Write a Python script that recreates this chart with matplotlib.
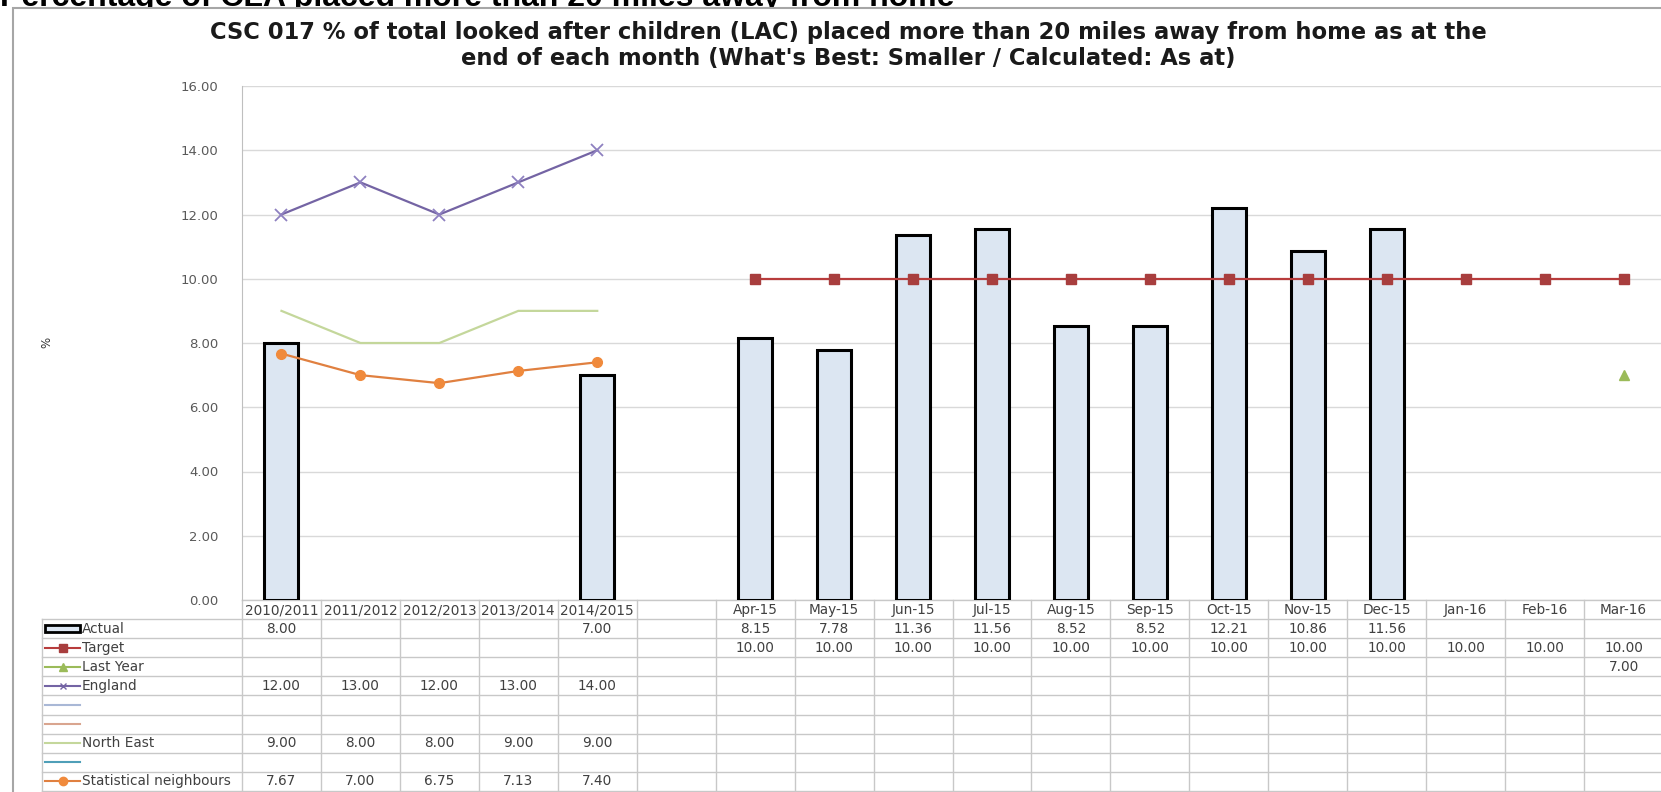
import matplotlib.pyplot as plt
import numpy as np
from matplotlib.patches import Rectangle

W, H = 1661, 792

categories = ['2010/2011', '2011/2012', '2012/2013', '2013/2014', '2014/2015', '',
              'Apr-15', 'May-15', 'Jun-15', 'Jul-15', 'Aug-15', 'Sep-15',
              'Oct-15', 'Nov-15', 'Dec-15', 'Jan-16', 'Feb-16', 'Mar-16']
nan = np.nan
actual = [8.00, nan, nan, nan, 7.00, nan,
          8.15, 7.78, 11.36, 11.56, 8.52, 8.52, 12.21, 10.86, 11.56, nan, nan, nan]
target = [nan] * 6 + [10.00] * 12
last_year = [nan] * 17 + [7.00]
england = [12.00, 13.00, 12.00, 13.00, 14.00] + [nan] * 13
north_east = [9.00, 8.00, 8.00, 9.00, 9.00] + [nan] * 13
stat_neighbours = [7.67, 7.00, 6.75, 7.13, 7.40] + [nan] * 13

row_names = ['Actual', 'Target', 'Last Year', 'England', '', '', 'North East', '',
             'Statistical neighbours']
row_values = [actual, target, last_year, england, None, None, north_east, None,
              stat_neighbours]

txt_c = '#404040'
tfs = 9.8
fig = plt.figure(figsize=(W / 100, H / 100), dpi=100)

# overlay axes in pixel coordinates for frame, titles and the data table
ov = fig.add_axes([0, 0, 1, 1], zorder=0)
ov.set_xlim(0, W)
ov.set_ylim(H, 0)
ov.axis('off')

ov.text(0, 6, 'Percentage of CLA placed more than 20 miles away from home',
        fontsize=23, fontweight='bold', family='Liberation Sans', va='baseline',
        ha='left', zorder=0)
ov.add_patch(Rectangle((13, 8), W, H, facecolor='white', edgecolor='#A6A6A6',
                       lw=1.5, zorder=1))
ov.text(848, 32, "CSC 017 % of total looked after children (LAC) placed more than 20 miles away from home as at the",
        fontsize=16.3, fontweight='bold', ha='center', va='center', color='#1A1A1A', zorder=2)
ov.text(848, 58, "end of each month (What's Best: Smaller / Calculated: As at)",
        fontsize=16.3, fontweight='bold', ha='center', va='center', color='#1A1A1A', zorder=2)
ov.text(47, 342, '%', fontsize=8.5, color='#303030', rotation=90, ha='center', va='center', zorder=2)

# plot axes
x0, x1, ytop, ybot = 242, 1663, 86, 600
ax = fig.add_axes([x0 / W, 1 - ybot / H, (x1 - x0) / W, (ybot - ytop) / H], zorder=2)
ax.set_facecolor('none')
n = len(categories)
x = np.arange(n)
ax.set_xlim(-0.5, n - 0.5)
ax.set_ylim(0, 16)
ax.set_yticks(np.arange(0, 17, 2))
ax.set_yticklabels(['%.2f' % v for v in np.arange(0, 17, 2)], fontsize=9.5, color='#595959')
ax.tick_params(axis='y', length=0, pad=17)
ax.set_xticks([])
ax.grid(axis='y', color='#D9D9D9', lw=1)
ax.set_axisbelow(True)
for s in ['top', 'right', 'bottom']:
    ax.spines[s].set_visible(False)
ax.spines['left'].set_color('#BFBFBF')

ax.bar(x, actual, width=0.43, color='#DCE6F2', edgecolor='black', lw=2.2, zorder=2)
ax.plot(x, north_east, color='#C4D79B', lw=1.6, zorder=3)
ax.plot(x, stat_neighbours, color='#E08040', lw=1.6, marker='o', ms=7,
        mfc='#F08A3C', mec='#F08A3C', zorder=4)
ax.plot(x, england, color='#7464A4', lw=1.6, marker='x', ms=8, mew=1.3,
        mec='#8E80C0', zorder=4)
ax.plot(x, target, color='#B83C3C', lw=1.6, marker='s', ms=6.5, mfc='#A83E3E',
        mec='#A83E3E', zorder=4)
ax.plot(x, last_year, color='#9BBB59', lw=0, marker='^', ms=7, zorder=4)

# data table
cw = (x1 - x0) / n
row_top = 619
rh = 19.1
tl = 42
grid_c = '#C8C8C8'
ov.plot([x0, W], [ybot, ybot], color=grid_c, lw=1, zorder=2)
for k in range(len(row_names) + 1):
    yy = row_top + k * rh
    ov.plot([tl, W], [yy, yy], color=grid_c, lw=1, zorder=2)
for k in range(n + 1):
    xx = x0 + k * cw
    ov.plot([xx, xx], [ybot, H], color=grid_c, lw=1, zorder=2)
ov.plot([tl, tl], [row_top, H], color=grid_c, lw=1, zorder=2)

for i, c in enumerate(categories):
    ov.text(x0 + (i + 0.5) * cw, 610, c, fontsize=tfs, color=txt_c, ha='center',
            va='center', zorder=3)

key_styles = [
    None,
    dict(color='#B83C3C', marker='s', mfc='#A83E3E', mec='#A83E3E', ms=6),
    dict(color='#9BBB59', marker='^', ms=6),
    dict(color='#7464A4', marker='x', ms=5),
    dict(color='#A9B8D6'),
    dict(color='#D9A58F'),
    dict(color='#C4D79B'),
    dict(color='#4F9FB8'),
    dict(color='#E08040', marker='o', ms=6, mfc='#F08A3C', mec='#F08A3C'),
]
for r, name in enumerate(row_names):
    yc = row_top + (r + 0.5) * rh
    if r == 0:
        ov.add_patch(Rectangle((45, yc - 3.5), 35, 7, facecolor='#DCE6F2', edgecolor='black',
                               lw=2, zorder=3))
    else:
        ov.plot([45, 62.5, 80], [yc, yc, yc], lw=1.5, zorder=3, markevery=[1],
                **key_styles[r])
    ov.text(82, yc, name, fontsize=tfs, color=txt_c, ha='left', va='center', zorder=3)
    vals = row_values[r]
    if vals is None:
        continue
    for i, v in enumerate(vals):
        if not np.isnan(v):
            ov.text(x0 + (i + 0.5) * cw, yc, '%.2f' % v, fontsize=tfs, color=txt_c,
                    ha='center', va='center', zorder=3)

fig.savefig('out.png', dpi=100)
